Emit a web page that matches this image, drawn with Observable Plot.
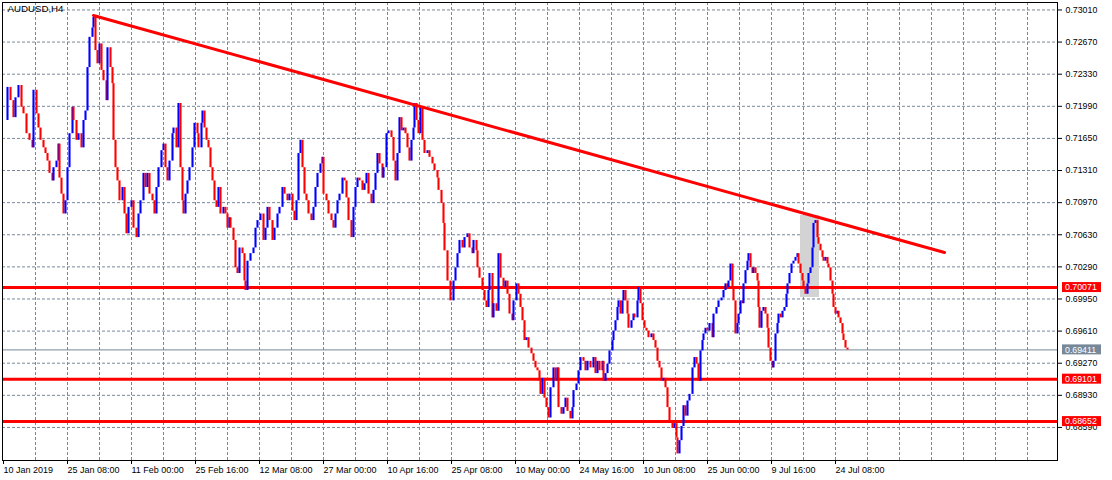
<!DOCTYPE html>
<html><head><meta charset="utf-8">
<script src="https://cdn.jsdelivr.net/npm/d3@7"></script>
<script src="https://cdn.jsdelivr.net/npm/@observablehq/plot@0.6"></script>
<style>body{margin:0;background:#fff} svg{display:block}</style>
</head><body><div id="chart"></div>
<script>
const symbol = "AUDUSD,H4";
// H4 bar index since 10 Jan 2019 00:00 for each time label
const xTickBars = [0,64,128,192,256,320,384,448,512,576,640,704,768,832];
const xTickLabels = ["10 Jan 2019","25 Jan 08:00","11 Feb 00:00","25 Feb 16:00","12 Mar 08:00","27 Mar 00:00","10 Apr 16:00","25 Apr 08:00","10 May 00:00","24 May 16:00","10 Jun 08:00","25 Jun 00:00","9 Jul 16:00","24 Jul 08:00"];
const yTicks = [0.73010,0.72670,0.72330,0.71990,0.71650,0.71310,0.70970,0.70630,0.70290,0.69950,0.69610,0.69270,0.68930,0.68590];
const levels = [0.70071, 0.69101, 0.68652];
const lastPrice = 0.69411;
const trend = [[90, 0.72952], [941, 0.70442]];
const zone = [{bar1: 797, bar2: 816, low: 0.69966, high: 0.70834}];

// [bar index, close]
const segJanFeb = [[0,.7184],[4,.7219],[7,.7205],[10,.7187],[12,.7208],[15,.7221],[18,.7198],[20,.7191],[23,.7170],[26,.7163],
[29,.7155],[30,.7216],[33,.7191],[35,.7176],[37,.7163],[40,.7155],[42,.7149],[44,.7141],[46,.7128],[49,.7120],
[50,.7134],[53,.7141],[55,.7159],[56,.7123],[58,.7106],[60,.7085],[62,.7099],[64,.7134],[66,.7170],[69,.7198],
[70,.7184],[73,.7163],[75,.7170],[78,.7155],[80,.7184],[82,.7194],[84,.7240],[86,.7272],[89,.7282],[90,.7293],
[92,.7258],[94,.7244],[96,.7265],[98,.7237],[100,.7226],[103,.7205],[104,.7261],[107,.7240],[109,.7223],[110,.7163],
[112,.7134],[114,.7120],[116,.7099],[119,.7113],[121,.7085],[123,.7064],[125,.7092],[128,.7099],[130,.7070],[133,.7060],
[135,.7085],[137,.7099],[140,.7128],[142,.7113],[144,.7128],[146,.7106],[149,.7099],[151,.7085],[153,.7113],[155,.7134],
[158,.7152],[160,.7159],[162,.7134],[164,.7120],[166,.7141],[169,.7170],[170,.7176],[173,.7155],[175,.7202],[177,.7134],
[179,.7099],[180,.7085],[182,.7106],[184,.7120],[186,.7134],[189,.7155],[191,.7181],[194,.7170],[195,.7155],[198,.7181],
[199,.7194],[201,.7176],[203,.7163],[205,.7155],[207,.7134],[209,.7120],[211,.7099],[213,.7092],[215,.7113],[217,.7085],
[220,.7092],[222,.7085],[224,.7070],[226,.7081]];
const segMarApr = [[227,.7070],[230,.7057],[232,.7028],[234,.7022],[236,.7049],[239,.7043],[241,.7014],[242,.7004],[244,.7035],[247,.7043],
[250,.7049],[252,.7070],[254,.7078],[257,.7085],[260,.7057],[262,.7070],[264,.7092],[266,.7078],[269,.7057],[271,.7070],
[274,.7085],[276,.7092],[279,.7113],[281,.7106],[284,.7099],[286,.7106],[289,.7088],[291,.7078],[293,.7099],[295,.7149],
[297,.7163],[299,.7134],[301,.7106],[303,.7099],[305,.7085],[308,.7078],[310,.7092],[312,.7113],[314,.7128],[317,.7138],
[319,.7145],[320,.7106],[323,.7099],[325,.7085],[328,.7078],[330,.7070],[332,.7085],[334,.7099],[336,.7106],[339,.7123],
[341,.7120],[343,.7102],[345,.7078],[348,.7060],[350,.7092],[352,.7113],[354,.7123],[356,.7120],[359,.7110],[361,.7117],
[363,.7128],[365,.7106],[368,.7096],[370,.7110],[372,.7128],[374,.7149],[376,.7138],[379,.7123],[380,.7134],[383,.7170],
[385,.7173],[388,.7166],[390,.7141],[392,.7120],[394,.7149],[396,.7187],[398,.7173],[400,.7176],[402,.7170],[404,.7155],
[406,.7141],[408,.7163],[410,.7176],[411,.7202],[413,.7184],[415,.7170],[417,.7198],[419,.7163],[421,.7149],[424,.7152],
[426,.7145],[429,.7138],[431,.7131],[434,.7123],[435,.7110],[438,.7096],[440,.7075]];
const segAprJun = [[441,.7046],[444,.7014],[447,.6993],[450,.7014],[452,.7028],[454,.7043],[456,.7057],[459,.7049],[461,.7060],[464,.7064],
[466,.7049],[469,.7043],[470,.7057],[473,.7046],[474,.7028],[476,.7017],[479,.7004],[481,.6993],[483,.6986],[485,.7004],
[486,.7022],[489,.6975],[490,.6990],[493,.6982],[495,.7043],[497,.7017],[500,.7007],[502,.7014],[504,.7000],[506,.6979],
[509,.6972],[510,.6993],[513,.7011],[515,.7000],[517,.6986],[519,.6972],[521,.6951],[523,.6954],[525,.6943],[528,.6937],
[530,.6929],[532,.6922],[534,.6919],[536,.6908],[537,.6894],[539,.6911],[541,.6890],[543,.6880],[545,.6869],[547,.6901],
[550,.6922],[552,.6908],[554,.6922],[555,.6880],[558,.6873],[560,.6880],[562,.6890],[564,.6876],[567,.6868],[569,.6880],
[570,.6898],[573,.6905],[575,.6919],[577,.6933],[580,.6929],[582,.6919],[584,.6929],[587,.6922],[590,.6933],[592,.6916],
[594,.6929],[596,.6919],[599,.6929],[600,.6908],[602,.6916],[604,.6926],[606,.6940],[609,.6951],[610,.6961],[612,.6972],
[614,.6986],[615,.6993],[617,.6979],[619,.6993],[620,.7004],[622,.6993],[624,.6979],[625,.6964],[628,.6972],[630,.6979],
[631,.6975],[634,.6993],[635,.7007],[637,.6990],[639,.6972],[641,.6964],[643,.6961],[645,.6954],[648,.6958],[650,.6951],
[652,.6943],[654,.6929],[656,.6922],[658,.6908],[660,.6911],[662,.6901],[664,.6880],[666,.6866],[669,.6858],[671,.6863],
[673,.6848],[674,.6831],[676,.6845]];
const segJunJul = [[678,.6860],[680,.6882],[682,.6871],[684,.6887],[686,.6894],[689,.6922],[691,.6933],[693,.6926],[695,.6908],[697,.6940],
[699,.6951],[700,.6958],[702,.6964],[704,.6961],[706,.6969],[709,.6954],[710,.6979],[713,.6986],[715,.6993],[718,.6996],
[720,.7004],[722,.7011],[724,.7007],[725,.7014],[727,.7032],[729,.7007],[730,.6993],[732,.6958],[734,.6969],[735,.6979],
[737,.6993],[739,.6990],[740,.7011],[742,.7025],[744,.7035],[745,.7043],[747,.7028],[749,.7022],[750,.7028],[752,.7022],
[754,.7014],[755,.6986],[756,.6964],[758,.6982],[760,.6986],[762,.6979],[764,.6964],[765,.6943],[767,.6929],[769,.6922],
[770,.6929],[772,.6958],[774,.6969],[775,.6979],[777,.6975],[779,.6982],[781,.6986],[783,.7000],[784,.7011],[786,.7022],
[788,.7032],[790,.7035],[792,.7039],[794,.7043],[795,.7032],[797,.7022],[799,.7014],[800,.7007],[802,.7000],[804,.7011],
[805,.7022],[807,.7028],[809,.7049],[810,.7075],[812,.7078],[814,.7060],[815,.7053],[817,.7046],[819,.7039],[820,.7035],
[822,.7039],[824,.7032],[825,.7028],[827,.7014],[829,.7000],[830,.6986],[832,.6979],[834,.6982],[835,.6975],[837,.6969],
[839,.6958],[840,.6951],[842,.6943],[844,.6941]];

const series = [...segJanFeb, ...segMarApr, ...segAprJun, ...segJunJul].map(([bar, close]) => ({bar, close}));
const steps = series.slice(1).map((d, i) => ({bar: d.bar, prev: series[i].close, close: d.close,
  col: d.close >= series[i].close ? "#0000ff" : "#ff0000"}));
const labelMap = new Map(xTickBars.map((b, i) => [b, xTickLabels[i]]));
const FONT = "'Liberation Sans', Arial, sans-serif";

const plot = Plot.plot({
  width: 1112, height: 480,
  marginLeft: 2, marginRight: 55, marginTop: 2, marginBottom: 20,
  style: {fontFamily: FONT, fontSize: "9px", background: "#fff", overflow: "visible"},
  x: {domain: [-1, 1054], axis: null},
  y: {domain: [0.68240, 0.73089], axis: null},
  color: {type: "identity"},
  marks: [
    Plot.ruleX(d3.range(32, 1055, 32), {stroke: "#778899", strokeDasharray: "3,2"}),
    Plot.ruleY(yTicks, {stroke: "#778899", strokeDasharray: "3,2"}),
    Plot.rect(zone, {x1: "bar1", x2: "bar2", y1: "low", y2: "high", fill: "#d3d3d3"}),
    Plot.ruleY([lastPrice], {stroke: "#778899"}),
    Plot.ruleY(levels, {stroke: "#ff0000", strokeWidth: 3}),
    Plot.ruleX(steps, {x: "bar", y1: "prev", y2: "close", stroke: "col", strokeWidth: 2.1}),
    Plot.line(trend, {x: d => d[0], y: d => d[1], stroke: "#ff0000", strokeWidth: 3}),
    Plot.frame({stroke: "#000"}),
    Plot.axisY(yTicks, {anchor: "right", tickSize: 4, tickPadding: 4, tickFormat: d => d.toFixed(5), fontSize: 8.8}),
    Plot.axisX(xTickBars, {anchor: "bottom", tickSize: 4, tickPadding: 2, tickFormat: d => labelMap.get(d), textAnchor: "start", fontSize: 9}),
    Plot.text([symbol], {frameAnchor: "top-left", dx: 5, dy: 3, textAnchor: "start", fontSize: 9.7, fill: "#000"})
  ]
});

const yScale = plot.scale("y");
const g = d3.select(plot).append("g").attr("font-family", FONT).attr("font-size", 8.8).attr("text-anchor", "start");
[...levels.map(v => ({v, fill: "#ff0000"})), {v: lastPrice, fill: "#778899"}].forEach(({v, fill}) => {
  const y = yScale.apply(v);
  g.append("rect").attr("x", 1062).attr("y", y - 5).attr("width", 39).attr("height", 10).attr("fill", fill);
  g.append("text").attr("x", 1065).attr("y", y).attr("dy", "0.36em").attr("fill", "#fff").attr("text-anchor", "start").text(v.toFixed(5));
});
document.getElementById("chart").appendChild(plot);
</script>
</body></html>
